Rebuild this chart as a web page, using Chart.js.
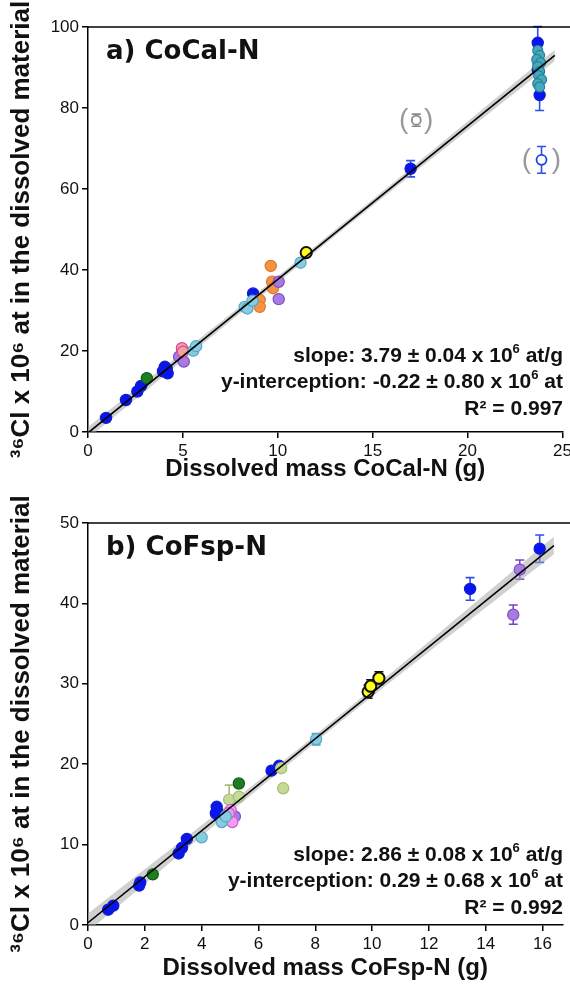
<!DOCTYPE html>
<html><head><meta charset="utf-8">
<script src="https://cdn.jsdelivr.net/npm/chart.js@4.4.1/dist/chart.umd.min.js"></script>
<style>
html,body{margin:0;padding:0;background:#fff;}
#wrap{width:570px;height:995px;position:relative;overflow:hidden;}
canvas{display:block;position:absolute;left:0;}
</style></head><body>
<div id="wrap">
<canvas id="ca" width="570" height="490" style="top:0px"></canvas>
<canvas id="cb" width="570" height="505" style="top:490px"></canvas>
</div>
<script>
// ---------- Panel a) CoCal-N ----------
const aXTicks = [0, 5, 10, 15, 20, 25];
const aYTicks = [0, 20, 40, 60, 80, 100];
const aBlueX = [0.95, 2.0, 2.6, 2.8, 3.95, 4.05, 4.15, 4.2, 8.7, 17.0, 23.7, 23.8, 23.75, 23.7];
const aBlueY = [3.5, 7.9, 10.0, 11.4, 15.0, 16.1, 15.6, 14.5, 34.2, 65.0, 96.1, 83.2, 91.0, 89.5];
const aBlueErr = [0, 0, 0, 0, 0, 0, 0, 0, 0, 2.0, 4.0, 3.8, 0, 0];
const aLightBlueX = [5.55, 5.7, 8.26, 8.4, 8.67, 11.2];
const aLightBlueY = [20.1, 21.2, 30.9, 30.5, 32.4, 41.8];
const aTealX = [23.7, 23.8, 23.65, 23.85, 23.7, 23.8, 23.75, 23.9, 23.7, 23.8];
const aTealY = [94.2, 93.0, 92.0, 91.2, 90.2, 89.0, 88.0, 87.0, 86.0, 85.2];
const aOrangeX = [9.05, 9.05, 9.63, 9.7, 9.75];
const aOrangeY = [32.6, 30.9, 41.0, 37.1, 35.5];
const aPurpleX = [4.8, 5.05, 10.05, 10.05];
const aPurpleY = [18.6, 17.4, 37.1, 32.8];
const aPinkX = [4.95, 5.0];
const aPinkY = [20.7, 19.8];
const aGreenX = [3.1];
const aGreenY = [13.3];
const aYellowX = [11.5];
const aYellowY = [44.3];
const aGrayOutX = [17.3];
const aGrayOutY = [77.0];
const aGrayOutErr = [1.5];
const aBlueOutX = [23.9];
const aBlueOutY = [67.2];
const aBlueOutErr = [3.3];
const aFitX = [0, 24.6];
const aFitY = [-0.22, 93.0];
const aBandX = [0, 12, 24.6];
const aBandHi = [1.2, 46.0, 94.4];
const aBandLo = [-1.6, 44.5, 91.6];
const aTitle = 'a) CoCal-N';
const aXTitle = 'Dissolved mass CoCal-N (g)';
const aStats = ['slope: 3.79 ± 0.04 x 10', 'y-interception: -0.22 ± 0.80 x 10', 'R² = 0.997'];
const aStatsTail = [' at/g', ' at', ''];

// ---------- Panel b) CoFsp-N ----------
const bXTicks = [0, 2, 4, 6, 8, 10, 12, 14, 16];
const bYTicks = [0, 10, 20, 30, 40, 50];
const bBlueX = [0.71, 0.89, 1.8, 1.84, 3.19, 3.31, 3.48, 4.53, 4.56, 4.62, 4.5, 6.46, 6.73, 13.45, 15.9];
const bBlueY = [1.9, 2.4, 4.9, 5.3, 8.9, 9.6, 10.7, 14.7, 14.1, 13.5, 13.9, 19.2, 19.8, 41.8, 46.8];
const bBlueErr = [0, 0, 0, 0, 0, 0, 0, 0, 0, 0, 0, 0, 0, 1.4, 1.7];
const bLightBlueX = [4.0, 4.71, 4.85, 8.03];
const bLightBlueY = [10.9, 12.8, 13.5, 23.1];
const bLightBlueErr = [0, 0, 0, 0.7];
const bPinkX = [5.02, 5.08, 4.95];
const bPinkY = [14.3, 12.8, 13.9];
const bPurpleX = [5.17, 15.2, 14.97];
const bPurpleY = [13.5, 44.2, 38.6];
const bPurpleErr = [0, 1.2, 1.2];
const bGreenX = [2.28, 5.31];
const bGreenY = [6.3, 17.6];
const bLightGreenX = [4.97, 5.31, 6.8, 6.87];
const bLightGreenY = [15.6, 15.95, 19.5, 17.0];
const bLightGreenErr = [1.8, 0, 0, 0];
const bYellowX = [9.86, 9.95, 10.24];
const bYellowY = [29.0, 29.7, 30.7];
const bYellowErr = [0.8, 0.8, 0.8];
const bFitX = [0, 16.4];
const bFitY = [0.29, 47.19];
const bBandX = [0, 8, 16.4];
const bBandHi = [1.4, 23.6, 48.3];
const bBandLo = [-0.8, 22.7, 46.1];
const bTitle = 'b) CoFsp-N';
const bXTitle = 'Dissolved mass CoFsp-N (g)';
const bStats = ['slope: 2.86 ± 0.08 x 10', 'y-interception: 0.29 ± 0.68 x 10', 'R² = 0.992'];
const bStatsTail = [' at/g', ' at', ''];

const yTitle = '³⁶Cl x 10⁶ at in the dissolved material';

// ---------- helpers ----------
function xy(xs, ys) { return xs.map((x, i) => ({ x: x, y: ys[i] })); }
function pointSet(xs, ys, fill, border, order, extra) {
  return Object.assign({
    type: 'scatter', data: xy(xs, ys), backgroundColor: fill, borderColor: border,
    borderWidth: 1.2, pointRadius: 5.6, pointHoverRadius: 5.6, order: order, showLine: false
  }, extra || {});
}

const errorBars = {
  id: 'errorBars',
  beforeDatasetsDraw(chart) {
    const ctx = chart.ctx, ys = chart.scales.y;
    chart.data.datasets.forEach((ds, di) => {
      if (!ds.errs) return;
      const meta = chart.getDatasetMeta(di);
      ds.data.forEach((p, i) => {
        const e = ds.errs[i];
        if (!e) return;
        const x = meta.data[i].x;
        const y1 = ys.getPixelForValue(p.y + e), y2 = ys.getPixelForValue(p.y - e);
        ctx.save();
        ctx.strokeStyle = ds.errColor; ctx.lineWidth = 1.6;
        ctx.beginPath();
        ctx.moveTo(x, y1); ctx.lineTo(x, y2);
        ctx.moveTo(x - 4.5, y1); ctx.lineTo(x + 4.5, y1);
        ctx.moveTo(x - 4.5, y2); ctx.lineTo(x + 4.5, y2);
        ctx.stroke(); ctx.restore();
      });
    });
  }
};

const decor = {
  id: 'decor',
  afterDraw(chart, args, o) {
    const ctx = chart.ctx, ca = chart.chartArea;
    ctx.save();
    // top frame line
    ctx.strokeStyle = '#000'; ctx.lineWidth = 1.5;
    ctx.beginPath(); ctx.moveTo(ca.left, ca.top); ctx.lineTo(chart.width, ca.top); ctx.stroke();
    // panel title
    ctx.fillStyle = '#111';
    ctx.font = 'bold 26px "DejaVu Sans"';
    ctx.textBaseline = 'middle'; ctx.textAlign = 'left';
    ctx.fillText(o.title, o.titleX, o.titleY);
    // stats
    const big = 'bold 21px "Liberation Sans", Arial, sans-serif';
    const sm = 'bold 13px "Liberation Sans", Arial, sans-serif';
    ctx.textBaseline = 'alphabetic';
    o.stats.forEach((s, i) => {
      const y = o.statsY[i];
      const tail = o.tails[i];
      let xr = o.statsRight;
      ctx.textAlign = 'right';
      ctx.font = big;
      if (tail) {
        ctx.fillText(tail, xr, y);
        xr -= ctx.measureText(tail).width;
        ctx.font = sm;
        ctx.fillText('6', xr, y - 9);
        xr -= ctx.measureText('6').width;
        ctx.font = big;
      }
      ctx.fillText(s, xr, y);
    });
    // parentheses around outliers
    if (o.parens) {
      const xs = chart.scales.x, ys = chart.scales.y;
      ctx.fillStyle = '#999';
      ctx.font = '28px "Liberation Sans", Arial, sans-serif';
      ctx.textBaseline = 'middle'; ctx.textAlign = 'center';
      o.parens.forEach(p => {
        const px = xs.getPixelForValue(p.x), py = ys.getPixelForValue(p.y);
        ctx.fillText('(', px - p.dx, py);
        ctx.fillText(')', px + p.dx, py);
      });
    }
    ctx.restore();
  }
};

function makeChart(id, cfg) {
  const tickFont = { family: '"Liberation Sans", Arial, sans-serif', size: 17 };
  const titleFont = { family: '"Liberation Sans", Arial, sans-serif', size: 24, weight: 'bold' };
  return new Chart(document.getElementById(id), {
    type: 'scatter',
    data: { datasets: cfg.datasets },
    options: {
      responsive: false, animation: false, devicePixelRatio: 1,
      layout: { padding: { top: cfg.padTop, right: cfg.padRight, left: 0, bottom: 0 } },
      plugins: { legend: { display: false }, tooltip: { enabled: false }, decor: cfg.decor },
      scales: {
        x: {
          type: 'linear', min: cfg.xMin, max: cfg.xMax,
          afterBuildTicks: s => { s.ticks = cfg.xTicks.map(v => ({ value: v })); },
          afterFit: s => { s.height = cfg.xAxisH; s.paddingLeft = 0; s.paddingRight = 0; },
          grid: { drawOnChartArea: false, drawTicks: true, tickLength: 6, color: '#000', lineWidth: 1.5 },
          border: { display: true, color: '#000', width: 1.5 },
          ticks: { font: tickFont, color: '#111', padding: 3, maxRotation: 0, autoSkip: false },
          title: { display: true, text: cfg.xTitle, font: titleFont, color: '#111', padding: { top: 6, bottom: cfg.xTitlePad } }
        },
        y: {
          type: 'linear', min: cfg.yMin, max: cfg.yMax,
          afterBuildTicks: s => { s.ticks = cfg.yTicks.map(v => ({ value: v })); },
          afterFit: s => { s.width = 88; s.paddingTop = 0; s.paddingBottom = 0; },
          grid: { drawOnChartArea: false, drawTicks: true, tickLength: 6, color: '#000', lineWidth: 1.5 },
          border: { display: true, color: '#000', width: 1.5 },
          ticks: { font: tickFont, color: '#111', padding: 3, autoSkip: false },
          title: { display: true, text: yTitle, font: { family: '"Liberation Sans", Arial, sans-serif', size: 26, weight: 'bold' }, color: '#111', padding: { top: 6, bottom: 6 } }
        }
      }
    },
    plugins: [errorBars, decor]
  });
}

function fitSets(fx, fy, bx, hi, lo) {
  return [
    { type: 'line', data: xy(fx, fy), borderColor: '#000', borderWidth: 1.6, pointRadius: 0, fill: false, order: 0 },
    { type: 'line', data: xy(bx, hi), borderColor: 'rgba(0,0,0,0)', borderWidth: 0, pointRadius: 0, fill: false, order: 100, tension: 0.4 },
    { type: 'line', data: xy(bx, lo), borderColor: 'rgba(0,0,0,0)', borderWidth: 0, pointRadius: 0, fill: '-1', backgroundColor: 'rgba(170,170,170,0.55)', order: 101, tension: 0.4 }
  ];
}

const BLUE = ['#0a14f0', '#1020c8'], LB = ['#88cce2', '#55a6c4'], TEAL = ['#45aabd', '#2a7f98'],
  OR = ['#f39444', '#e07a28'], PU = ['#a77be0', '#7f4fc4'], PK = ['#f29af0', '#cc5fca'],
  GR = ['#1b7f22', '#0f5f14'], YE = ['#ffff1a', '#111111'], LG = ['#c6da96', '#a4bd78'];

makeChart('ca', {
  padTop: 27, padRight: 7, xAxisH: 58, xTitlePad: 6, xMin: 0, xMax: 25, yMin: 0, yMax: 100,
  xTicks: aXTicks, yTicks: aYTicks, xTitle: aXTitle,
  decor: { title: aTitle, titleX: 106, titleY: 52, stats: aStats, tails: aStatsTail,
    statsY: [362, 388, 415], statsRight: 563,
    parens: [{ x: aGrayOutX[0], y: aGrayOutY[0], dx: 12.5 }, { x: aBlueOutX[0], y: aBlueOutY[0], dx: 15 }] },
  datasets: [
    ...fitSets(aFitX, aFitY, aBandX, aBandHi, aBandLo),
    pointSet(aYellowX, aYellowY, YE[0], YE[1], 1, { borderWidth: 2 }),
    pointSet(aLightBlueX, aLightBlueY, LB[0], LB[1], 2),
    pointSet(aPinkX, aPinkY, '#f3a39a', '#d8469c', 3),
    pointSet(aPurpleX, aPurpleY, PU[0], PU[1], 4),
    pointSet(aOrangeX, aOrangeY, OR[0], OR[1], 5),
    pointSet(aTealX, aTealY, TEAL[0], TEAL[1], 6, { pointRadius: 5 }),
    pointSet(aGreenX, aGreenY, GR[0], GR[1], 7),
    pointSet(aGrayOutX, aGrayOutY, '#ffffff', '#8a8a8a', 8, { errs: aGrayOutErr, errColor: '#8a8a8a', pointRadius: 4.5, borderWidth: 1.8 }),
    pointSet(aBlueOutX, aBlueOutY, '#ffffff', '#2040e0', 8, { errs: aBlueOutErr, errColor: '#2f4fe8', pointRadius: 5, borderWidth: 1.8 }),
    pointSet(aBlueX, aBlueY, BLUE[0], BLUE[1], 9, { errs: aBlueErr, errColor: '#2f4fe8' })
  ]
});

makeChart('cb', {
  padTop: 33, padRight: 5, xAxisH: 70, xTitlePad: 12, xMin: 0, xMax: 16.7, yMin: 0, yMax: 50,
  xTicks: bXTicks, yTicks: bYTicks, xTitle: bXTitle,
  decor: { title: bTitle, titleX: 106, titleY: 58, stats: bStats, tails: bStatsTail,
    statsY: [371, 397, 424], statsRight: 563, parens: null },
  datasets: [
    ...fitSets(bFitX, bFitY, bBandX, bBandHi, bBandLo),
    pointSet(bYellowX, bYellowY, YE[0], YE[1], 1, { borderWidth: 2, errs: bYellowErr, errColor: '#111' }),
    pointSet(bLightBlueX, bLightBlueY, LB[0], LB[1], 2, { errs: bLightBlueErr, errColor: LB[1] }),
    pointSet(bPinkX, bPinkY, PK[0], PK[1], 3),
    pointSet(bPurpleX, bPurpleY, PU[0], PU[1], 4, { errs: bPurpleErr, errColor: '#7a44c8' }),
    pointSet(bLightGreenX, bLightGreenY, LG[0], LG[1], 5, { errs: bLightGreenErr, errColor: LG[1] }),
    pointSet(bGreenX, bGreenY, GR[0], GR[1], 6),
    pointSet(bBlueX, bBlueY, BLUE[0], BLUE[1], 9, { errs: bBlueErr, errColor: '#2f4fe8' })
  ]
});
</script>
</body></html>
